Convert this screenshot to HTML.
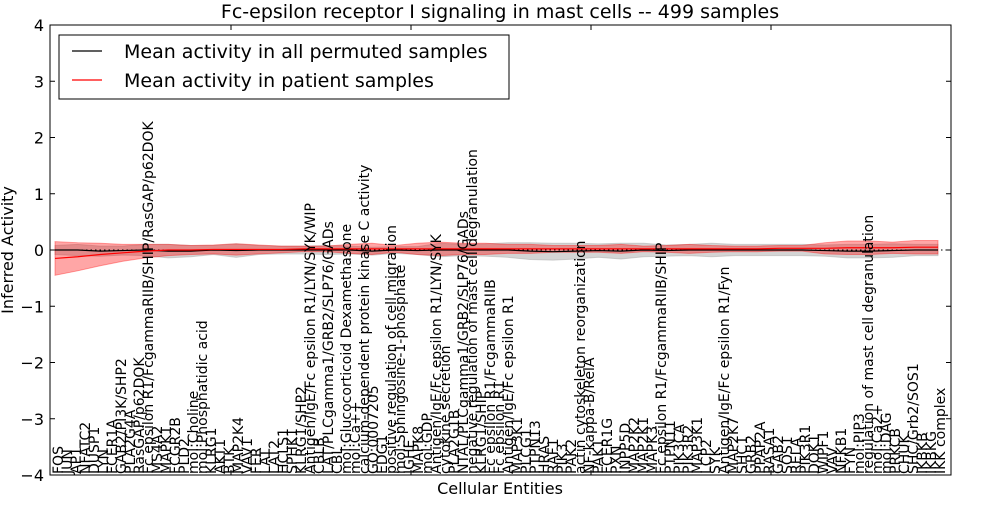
<!DOCTYPE html>
<html><head><meta charset="utf-8"><style>
body{margin:0;background:#fff;}
svg text{font-family:"DejaVu Sans","Liberation Sans",sans-serif;fill:#000;}
</style></head><body>
<svg id="chart" width="1000" height="500" xmlns="http://www.w3.org/2000/svg">
<text x="500" y="18" font-size="19" text-anchor="middle">Fc-epsilon receptor I signaling in mast cells -- 499 samples</text>
<g id="bands"></g>
<g id="lines"></g>
<g id="axes"></g>
<g id="xlabels"></g>
<rect x="50" y="25" width="901" height="450" fill="none" stroke="#000" stroke-width="1"/>
<text transform="translate(13,250) rotate(-90)" font-size="16" text-anchor="middle">Inferred Activity</text>
<text x="500" y="494" font-size="16" text-anchor="middle">Cellular Entities</text>
<g>
<rect x="59" y="35" width="450" height="64" fill="#fff" stroke="#000"/>
<line x1="72" y1="51" x2="102" y2="51" stroke="#000" stroke-width="1.3"/>
<text x="124" y="58" font-size="19">Mean activity in all permuted samples</text>
<line x1="72" y1="80" x2="102" y2="80" stroke="#f00" stroke-width="1.3"/>
<text x="124" y="87" font-size="19">Mean activity in patient samples</text>
</g>
</svg>
<script>
const entities=["FOS","JUN","AP1","NFATC2","DUSP1","LYN","FCER1A","GAB2/PI3K/SHP2","PLA2G4A","RasGAP/p62DOK","Fc epsilon R1/FcgammaRIIB/SHIP/RasGAP/p62DOK","MS4A2","MAPK1","FCGR2B","PLD2","mol:Choline","mol:Phosphatidic acid","KLRG1","AKT1","BTK","MAP2K4","VAV1","FER","LAT","LAT2","HCLS1","SPHK1","KLRG1/SHP2","Antigen/IgE/Fc epsilon R1/LYN/SYK/WIP","CBLB","LAT/PLCgamma1/GRB2/SLP76/GADs","CBL","mol:Glucocorticoid Dexamethasone","mol:Ca++","calcium-dependent protein kinase C activity","GO:0007205","EDG1","positive regulation of cell migration","mol:Sphingosine-1-phosphate","IGHE","MAPK8","mol:GDP","Antigen/IgE/Fc epsilon R1/LYN/SYK","cytokine secretion","PLA2G1B","NTAL/PLCgamma1/GRB2/SLP76/GADs","negative regulation of mast cell degranulation","KLRG1/SHIP","Fc epsilon R1/FcgammaRIIB","Fc epsilon R1","Antigen/IgE/Fc epsilon R1","MAP3K1","PLCG1","PTPN13","HRAS","RAF1","PIK3","PAK2","actin cytoskeleton reorganization","NF-kappa-B/RelA","PAK1","FCER1G","PXN","INPP5D","MAP2K2","MAP2K1","MAPK3","Fc epsilon R1/FcgammaRIIB/SHIP","PTPN11","PIK3CA","PIK3R2","MAP3K1","LCP2","SYK","Antigen/IgE/Fc epsilon R1/Fyn","MAP2K7","SHC1","GRB2","PPAP2A","RASA1","GAB2","SOS1","RELA","PIK3R1","DOK1","WIPF1","VAV","NFKB1","FYN","mol:PIP3","regulation of mast cell degranulation","mol:Ca2+","mol:DAG","PRKCB","CHUK","SHC/Grb2/SOS1","IKBKB","IKBKG","IKK complex"];
const patientMean=[-0.15,-0.12,-0.08,-0.05,-0.02,0,0,0.01,0.01,0.01,0.01,0.02,0.02,0.02,0.02,0.02,0.02,0.02,0.02,0.02,0.02,0.02,0.02,0.02,0.02,0.02,0.02,0.02,0.02,0.02,0.02,0.02,0.03,0.03,0.03,0.04,0.04,0.04,0.05,0.05];
const patientHalf=[0.3,0.25,0.2,0.15,0.12,0.1,0.08,0.08,0.1,0.08,0.06,0.05,0.05,0.08,0.1,0.06,0.1,0.12,0.1,0.1,0.08,0.08,0.06,0.06,0.06,0.08,0.05,0.06,0.08,0.06,0.05,0.05,0.05,0.05,0.1,0.12,0.12,0.1,0.12,0.12];
const permMean=[0,0,-0.02,-0.01,0,-0.02,-0.02,0,-0.01,0,0,0,0,0,-0.02,0,-0.01,0,0,0,0,-0.02,-0.03,-0.02,-0.01,-0.02,0,-0.01,0,0,0,0,0,0,-0.01,-0.02,-0.02,-0.01,0,0];
const permHalf=[0.08,0.1,0.09,0.08,0.1,0.12,0.1,0.08,0.12,0.08,0.07,0.07,0.08,0.07,0.07,0.06,0.07,0.12,0.1,0.11,0.13,0.15,0.15,0.14,0.12,0.14,0.12,0.1,0.1,0.12,0.1,0.1,0.1,0.1,0.1,0.12,0.12,0.12,0.1,0.1];
const yTicks=[-4,-3,-2,-1,0,1,2,3,4];
const NS="http://www.w3.org/2000/svg";
const x0=55,x1=938;
const sx=i=>x0+(x1-x0)*i/(patientMean.length-1);
const sy=v=>250-v*56.25;
function mk(t,a,p){const e=document.createElementNS(NS,t);for(const k in a)e.setAttribute(k,a[k]);p.appendChild(e);return e;}
function band(mean,half,fill,op,name){
  let up=mean.map((m,i)=>sx(i)+","+sy(m+half[i]));
  let dn=mean.map((m,i)=>sx(i)+","+sy(m-half[i])).reverse();
  const p=mk("polygon",{points:up.concat(dn).join(" "),fill:fill,"fill-opacity":op,stroke:fill,"stroke-opacity":op},document.getElementById("bands"));
  
  
}
band(permMean,permHalf,"#aaa",0.5,"permuted-band");
band(patientMean,patientHalf,"#f00",0.35,"patient-band");
const L=document.getElementById("lines");
const z=mk("line",{x1:50,x2:951,y1:sy(0),y2:sy(0),stroke:"#000","stroke-dasharray":"1.5,3"},L);


const pl=mk("polyline",{points:permMean.map((m,i)=>sx(i)+","+sy(m)).join(" "),fill:"none",stroke:"#000","stroke-width":1.2},L);


const rl=mk("polyline",{points:patientMean.map((m,i)=>sx(i)+","+sy(m)).join(" "),fill:"none",stroke:"#f00","stroke-width":1.2},L);


const A=document.getElementById("axes");
yTicks.forEach(v=>{
  mk("line",{x1:50,x2:55,y1:sy(v),y2:sy(v),stroke:"#000"},A);
  mk("line",{x1:946,x2:951,y1:sy(v),y2:sy(v),stroke:"#000"},A);
  const t=mk("text",{x:44,y:sy(v)+6,"font-size":16,"text-anchor":"end"},A);
  t.textContent=(v<0?"\u2212":"")+Math.abs(v);
  
  
});
[231,411,591,771].forEach(x=>{mk("line",{x1:x,x2:x,y1:25,y2:30,stroke:"#000"},A);mk("line",{x1:x,x2:x,y1:470,y2:475,stroke:"#000"},A);});
const X=document.getElementById("xlabels");
const lx0=63,lx1=945;
entities.forEach((n,i)=>{
  const x=lx0+(lx1-lx0)*i/(entities.length-1);
  const t=mk("text",{transform:`translate(${x},474) rotate(-90)`,"font-size":14},X);
  t.textContent=n;
  
  
});
</script>
</body></html>
